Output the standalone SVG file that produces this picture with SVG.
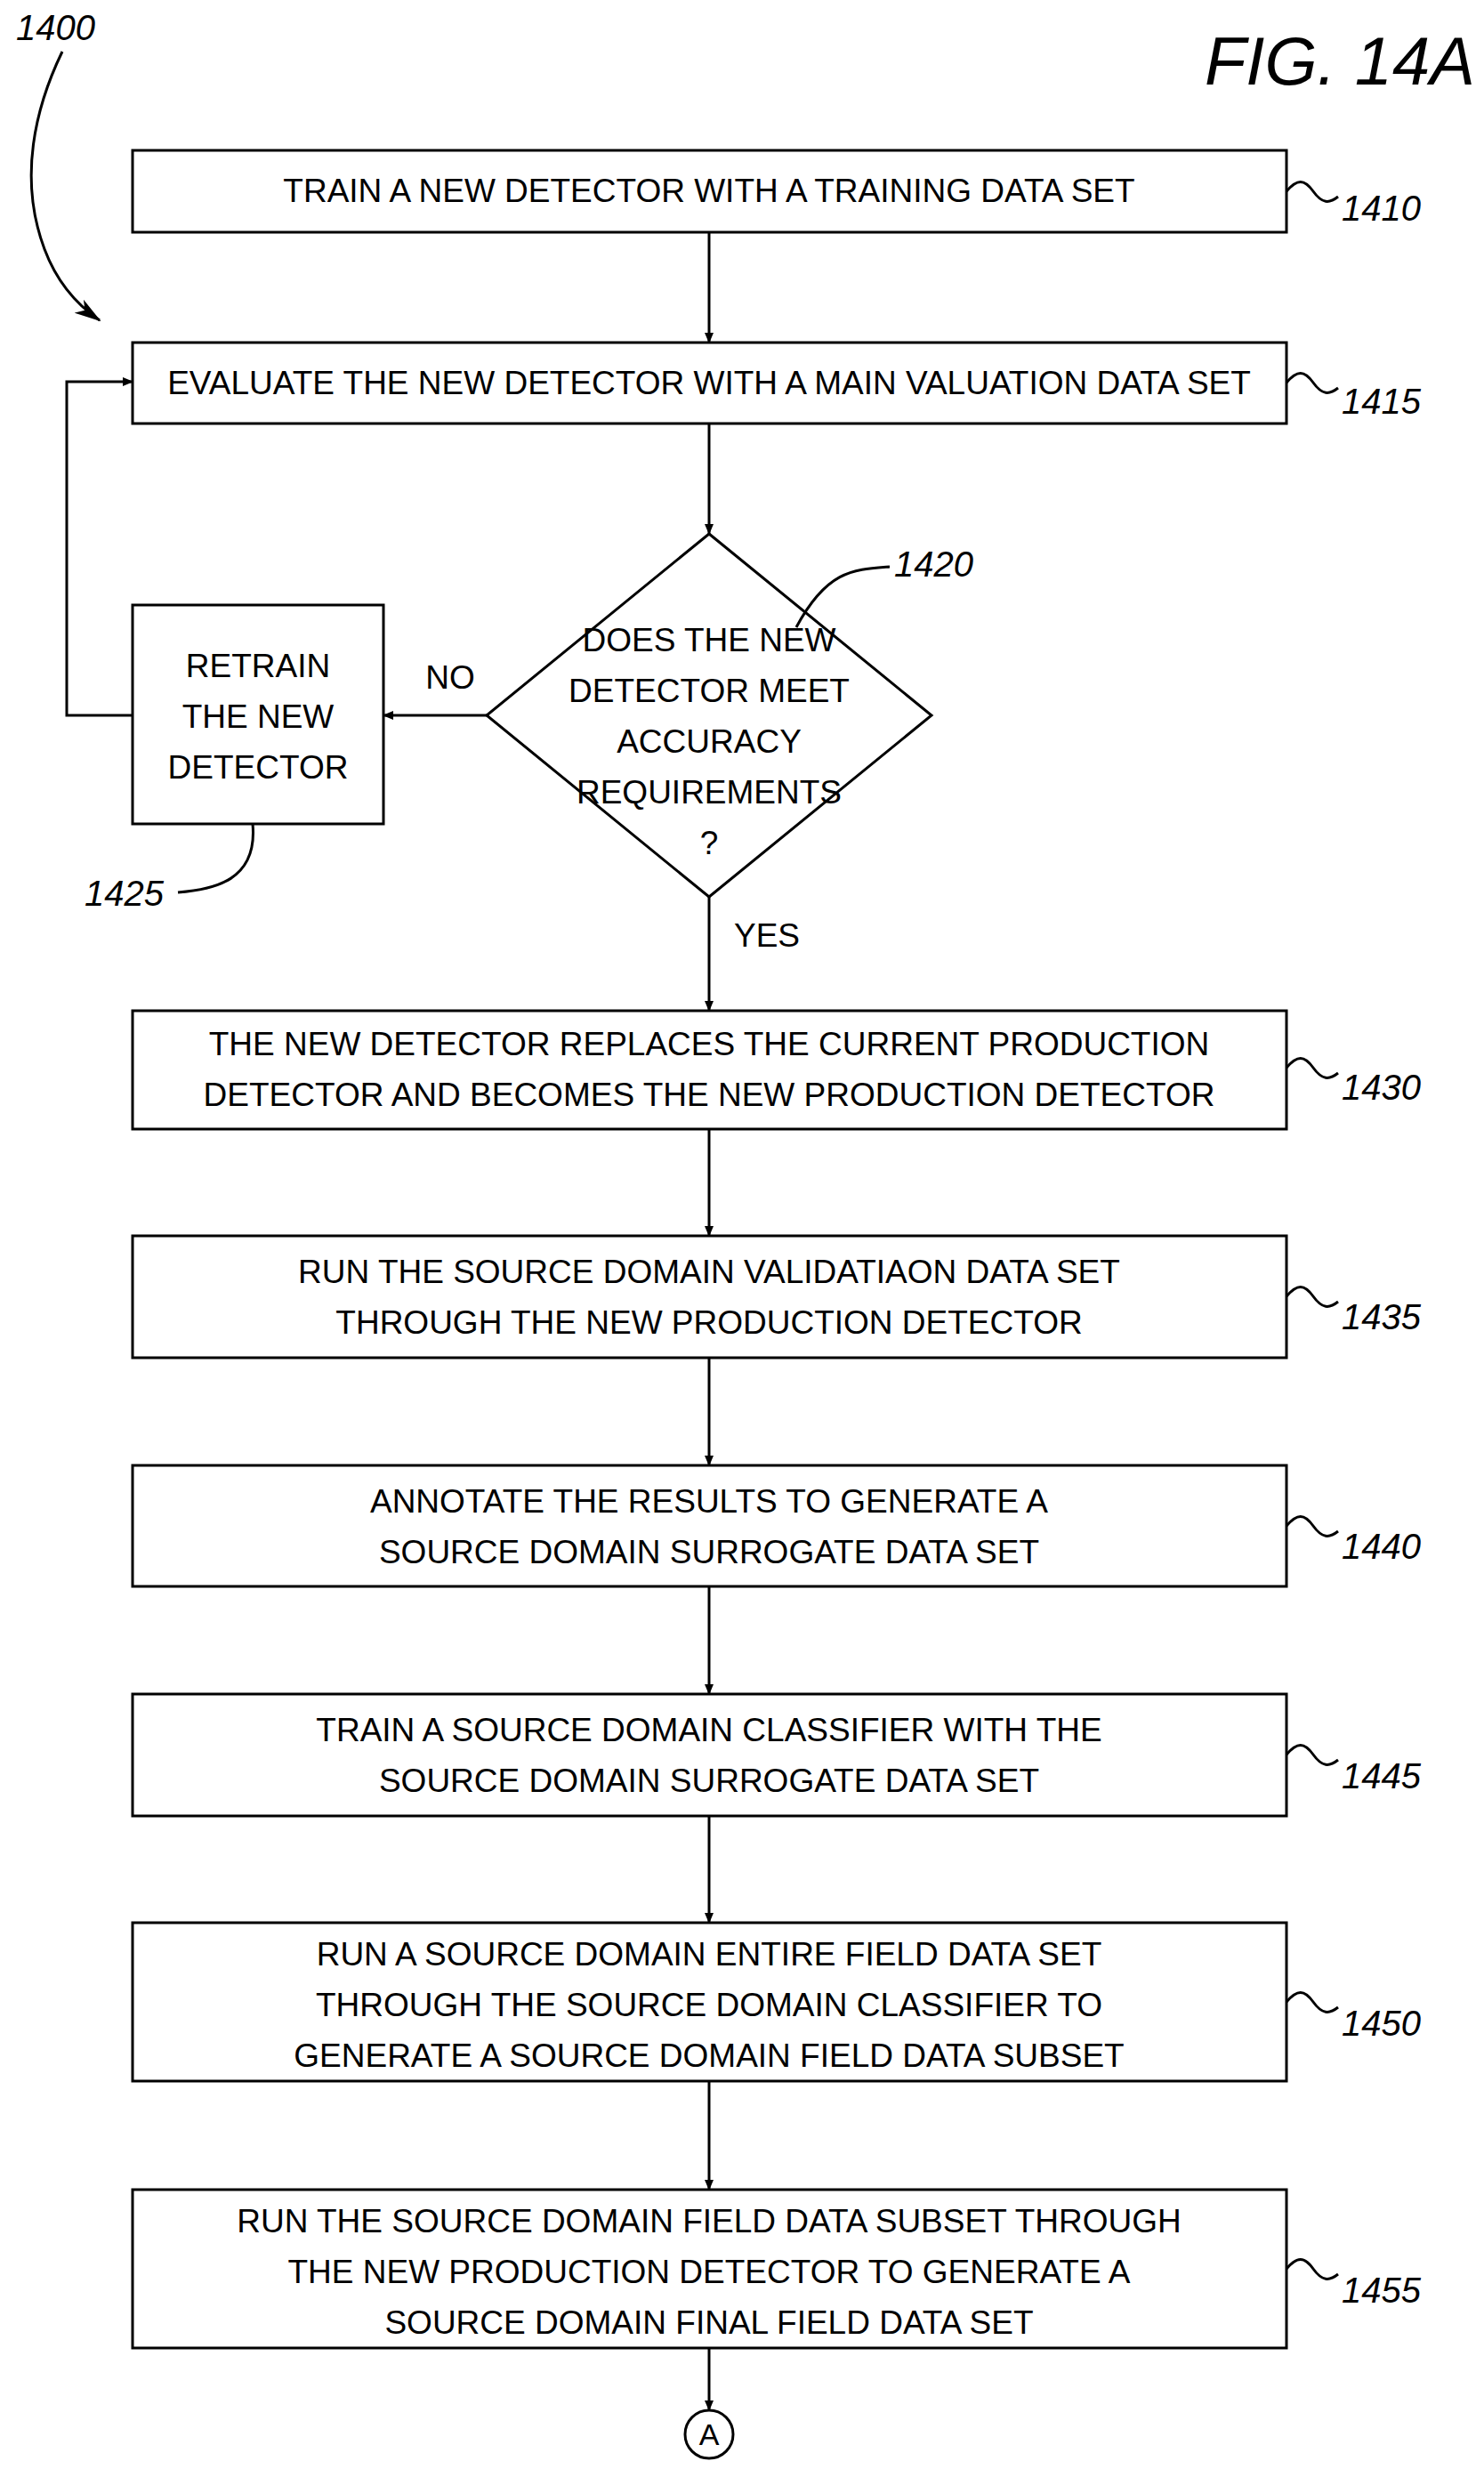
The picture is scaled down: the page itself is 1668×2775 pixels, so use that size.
<svg xmlns="http://www.w3.org/2000/svg" width="1668" height="2775" viewBox="0 0 1668 2775">
<style>
.b{fill:#fff;stroke:#000;stroke-width:3}
.t{font-family:"Liberation Sans",sans-serif;font-size:37px;text-anchor:middle;fill:#000}
.l{font-family:"Liberation Sans",sans-serif;font-size:40px;font-style:italic;fill:#000}
.c{fill:none;stroke:#000;stroke-width:3}
.fig{font-size:76px}
.ca{font-size:34px}
</style>
<defs><marker id="a" markerWidth="12" markerHeight="10" refX="11" refY="5" orient="auto" markerUnits="userSpaceOnUse"><path d="M0,0L12,5L0,10z" fill="#000"/></marker>
<marker id="h" markerWidth="30" markerHeight="18" refX="28" refY="9" orient="auto" markerUnits="userSpaceOnUse"><path d="M0,0L30,9L0,18L8,9z" fill="#000"/></marker></defs>
<rect width="1668" height="2775" fill="#fff"/>
<text class="l fig" x="1658" y="95" text-anchor="end">FIG. 14A</text>
<text class="l" x="18" y="45">1400</text>
<path class="c" d="M70,58 C40,120 20,200 50,280 C65,320 90,345 112,360" marker-end="url(#h)"/>
<g id="n1410"><rect class="b" x="149" y="169" width="1297" height="92"/><text class="t" x="797" y="227">TRAIN A NEW DETECTOR WITH A TRAINING DATA SET</text><path class="c" d="M1446,215 c12,-14 20,-14 30,0 s18,14 28,6"/><text class="l" x="1508" y="248">1410</text></g>
<g id="n1415"><rect class="b" x="149" y="385" width="1297" height="91"/><text class="t" x="797" y="443">EVALUATE THE NEW DETECTOR WITH A MAIN VALUATION DATA SET</text><path class="c" d="M1446,430 c12,-14 20,-14 30,0 s18,14 28,6"/><text class="l" x="1508" y="465">1415</text></g>
<g id="n1420"><path class="b" d="M797,600L1047,804L797,1008L547,804z"/><text class="t" x="797" y="732">DOES THE NEW</text><text class="t" x="797" y="789">DETECTOR MEET</text><text class="t" x="797" y="846">ACCURACY</text><text class="t" x="797" y="903">REQUIREMENTS</text><text class="t" x="797" y="960">?</text><path class="c" d="M895,705 C930,640 960,640 1000,637"/><text class="l" x="1005" y="648">1420</text></g>
<g id="n1425"><rect class="b" x="149" y="680" width="282" height="246"/><text class="t" x="290" y="761">RETRAIN</text><text class="t" x="290" y="818">THE NEW</text><text class="t" x="290" y="875">DETECTOR</text><path class="c" d="M284,926 C290,990 240,1000 200,1003"/><text class="l" x="95" y="1018">1425</text></g>
<g id="n1430"><rect class="b" x="149" y="1136" width="1297" height="133"/><text class="t" x="797" y="1186">THE NEW DETECTOR REPLACES THE CURRENT PRODUCTION</text><text class="t" x="797" y="1243">DETECTOR AND BECOMES THE NEW PRODUCTION DETECTOR</text><path class="c" d="M1446,1200 c12,-14 20,-14 30,0 s18,14 28,6"/><text class="l" x="1508" y="1236">1430</text></g>
<g id="n1435"><rect class="b" x="149" y="1389" width="1297" height="137"/><text class="t" x="797" y="1442">RUN THE SOURCE DOMAIN VALIDATIAON DATA SET</text><text class="t" x="797" y="1499">THROUGH THE NEW PRODUCTION DETECTOR</text><path class="c" d="M1446,1457 c12,-14 20,-14 30,0 s18,14 28,6"/><text class="l" x="1508" y="1494">1435</text></g>
<g id="n1440"><rect class="b" x="149" y="1647" width="1297" height="136"/><text class="t" x="797" y="1700">ANNOTATE THE RESULTS TO GENERATE A</text><text class="t" x="797" y="1757">SOURCE DOMAIN SURROGATE DATA SET</text><path class="c" d="M1446,1715 c12,-14 20,-14 30,0 s18,14 28,6"/><text class="l" x="1508" y="1752">1440</text></g>
<g id="n1445"><rect class="b" x="149" y="1904" width="1297" height="137"/><text class="t" x="797" y="1957">TRAIN A SOURCE DOMAIN CLASSIFIER WITH THE</text><text class="t" x="797" y="2014">SOURCE DOMAIN SURROGATE DATA SET</text><path class="c" d="M1446,1972 c12,-14 20,-14 30,0 s18,14 28,6"/><text class="l" x="1508" y="2010">1445</text></g>
<g id="n1450"><rect class="b" x="149" y="2161" width="1297" height="178"/><text class="t" x="797" y="2209">RUN A SOURCE DOMAIN ENTIRE FIELD DATA SET</text><text class="t" x="797" y="2266">THROUGH THE SOURCE DOMAIN CLASSIFIER TO</text><text class="t" x="797" y="2323">GENERATE A SOURCE DOMAIN FIELD DATA SUBSET</text><path class="c" d="M1446,2250 c12,-14 20,-14 30,0 s18,14 28,6"/><text class="l" x="1508" y="2288">1450</text></g>
<g id="n1455"><rect class="b" x="149" y="2461" width="1297" height="178"/><text class="t" x="797" y="2509">RUN THE SOURCE DOMAIN FIELD DATA SUBSET THROUGH</text><text class="t" x="797" y="2566">THE NEW PRODUCTION DETECTOR TO GENERATE A</text><text class="t" x="797" y="2623">SOURCE DOMAIN FINAL FIELD DATA SET</text><path class="c" d="M1446,2550 c12,-14 20,-14 30,0 s18,14 28,6"/><text class="l" x="1508" y="2588">1455</text></g>
<g id="nA"><circle class="b" cx="797" cy="2736" r="27"/><text class="t ca" x="797" y="2748">A</text></g>
<g id="connectors">
<path class="c" d="M797,261V385" marker-end="url(#a)"/>
<path class="c" d="M797,476V600" marker-end="url(#a)"/>
<path class="c" d="M547,804H431" marker-end="url(#a)"/>
<path class="c" d="M149,804H75V429H149" marker-end="url(#a)"/>
<path class="c" d="M797,1008V1136" marker-end="url(#a)"/>
<path class="c" d="M797,1269V1389" marker-end="url(#a)"/>
<path class="c" d="M797,1526V1647" marker-end="url(#a)"/>
<path class="c" d="M797,1783V1904" marker-end="url(#a)"/>
<path class="c" d="M797,2041V2161" marker-end="url(#a)"/>
<path class="c" d="M797,2339V2461" marker-end="url(#a)"/>
<path class="c" d="M797,2639V2709" marker-end="url(#a)"/>
<text class="t" x="506" y="774">NO</text>
<text class="t" x="862" y="1064">YES</text>
</g>
</svg>
